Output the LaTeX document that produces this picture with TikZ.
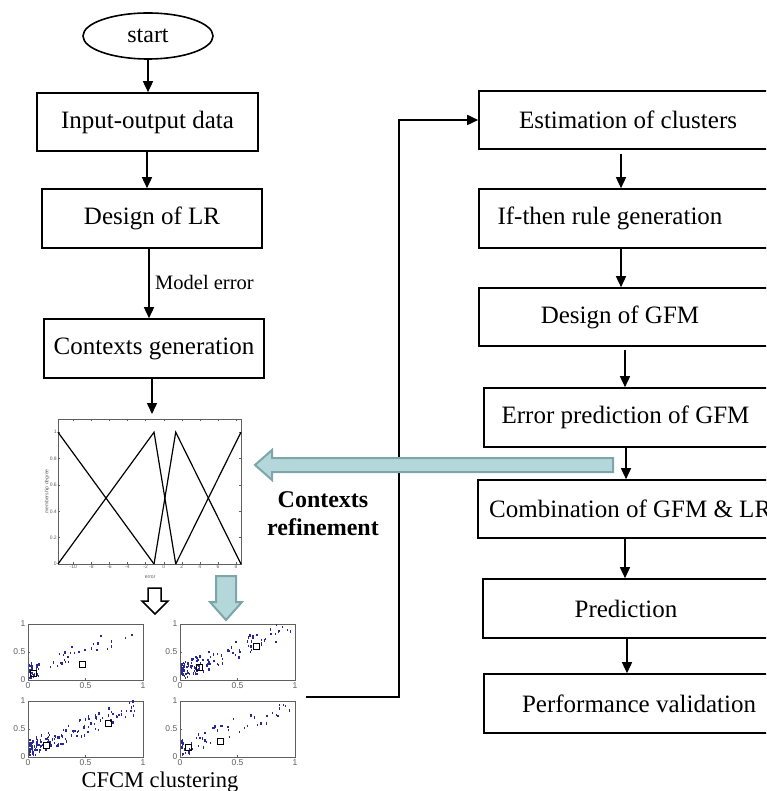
\documentclass[tikz,border=0pt]{standalone}
\usepackage{fontspec}
\setmainfont{Liberation Serif}
\newfontfamily\plotfont{Liberation Sans}
\usetikzlibrary{arrows.meta,shapes.geometric}
\definecolor{tealfill}{RGB}{180,216,218}
\definecolor{tealedge}{RGB}{125,165,170}
\definecolor{dotblue}{RGB}{40,40,150}
\definecolor{axgray}{RGB}{95,95,95}
\begin{document}
\begin{tikzpicture}[x=1pt,y=-1pt,
  box/.style={draw, line width=1.6pt, rectangle, inner sep=0pt,
    font=\fontsize{25}{30}\selectfont},
  lbl/.style={inner sep=0pt, font=\fontsize{25}{30}\selectfont},
  arr/.style={line width=1.5pt, -{Triangle[length=11pt,width=10pt]}},
  fb/.style={line width=1.7pt, -{Triangle[length=11pt,width=10pt]}},
  tick/.style={inner sep=1pt, text=axgray, font=\plotfont\fontsize{5}{6}\selectfont},
  stick/.style={inner sep=1.5pt, text=axgray, font=\plotfont\fontsize{8.5}{9}\selectfont},
  frame/.style={draw=axgray, line width=0.7pt},
  curve/.style={line width=1.2pt, black},
  blockarrow/.style={fill=tealfill, draw=tealedge, line width=2pt, line join=miter},
  hollowarrow/.style={fill=white, draw=black, line width=1.5pt, line join=miter},
  centre/.style={draw=black, line width=0.8pt}]
\useasboundingbox (0,0) rectangle (766,791);
\clip (0,0) rectangle (766,791);

% ---------- left column ----------
\node[draw, ellipse, line width=1.6pt, minimum width=130pt, minimum height=46pt,
      inner sep=0pt, font=\fontsize{24}{28}\selectfont] (start) at (148,36) {start};
\node[box, minimum width=221pt, minimum height=58pt] (io)  at (147.5,122)  {Input-output data};
\node[box, minimum width=220pt, minimum height=59pt] (lr)  at (152,218.5)  {Design of LR};
\node[box, minimum width=220pt, minimum height=59pt] (ctx) at (154,348.5)  {Contexts generation};

\coordinate (c0) at (149,0);
\coordinate (c00) at (147,0);
\draw[arr] (start.south) -- (start.south |- io.north);
\draw[arr] (c00 |- io.south) -- (c00 |- lr.north);
\draw[arr] (c0 |- lr.south) -- (c0 |- ctx.north);
\node[anchor=west, inner sep=0pt, font=\fontsize{20.5}{24}\selectfont] (merr) at (155,282) {Model error};

\coordinate (mtop) at (152,414);
\draw[arr] (mtop |- ctx.south) -- (mtop);

% ---------- membership functions of the contexts ----------
\begin{scope}[shift={(163.7,564)}, x=9.037pt, y=131.8pt]
  \draw[frame, line width=0.6pt] (-11.7,0) rectangle (8.55,1.1);
  \foreach \t in {-10,-8,...,8} {
    \draw[axgray, line width=0.4pt] (\t,0) -- ++(0,2pt);
    \draw[axgray, line width=0.4pt] (\t,1.1) -- ++(0,-2pt);
    \node[tick, below] (xt\t) at (\t,0) {\t};
  }
  \foreach \t in {0,0.2,0.4,0.6,0.8,1} {
    \draw[axgray, line width=0.4pt] (-11.7,\t) -- ++(2pt,0);
    \draw[axgray, line width=0.4pt] (8.55,\t) -- ++(-2pt,0);
    \node[tick, left] (yt\t) at (-11.7,\t) {\t};
  }
  \node[tick, rotate=90] (mlab) at (-12.9,0.55) {membership degree};
  \node[tick] (elab) at (-1.5,-0.1) {error};
  \draw[curve] (-11.7,1) -- (-1.07,0);
  \draw[curve] (-11.7,0) -- (-1.07,1) -- (1.33,0);
  \draw[curve] (-1.07,0) -- (1.33,1) -- (8.55,0);
  \draw[curve] (1.33,0) -- (8.55,1);
\end{scope}

% ---------- CFCM clustering panels ----------
\foreach \ox/\oy/\seed/\n in {28/680/11/55, 180/680/23/130, 28/757/37/140, 180/757/51/65} {
  \draw[frame] (\ox,\oy-56) rectangle (\ox+115,\oy);
  \foreach \k/\v in {0/0, 0.5/0.5, 1/1} {
    \draw[axgray, line width=0.4pt] (\ox+115*\k,\oy) -- ++(0,-2);
    \draw[axgray, line width=0.4pt] (\ox,\oy-56*\k) -- ++(2,0);
    \node[stick, anchor=north] at (\ox+115*\k,\oy+1) {\v};
    \node[stick, anchor=east] at (\ox-1,\oy-56*\k) {\v};
  }
  \begin{scope}[shift={(\ox,\oy)}, x=115pt, y=56pt]
    \pgfmathsetseed{\seed}
    \foreach \i in {1,...,\n} {
      \pgfmathsetmacro\px{0.96*rnd^2.3+0.01}
      \pgfmathsetmacro\py{min(0.97,max(0.01,0.82*\px+0.12+0.32*(rnd-0.5)))}
      \fill[dotblue] (\px,\py) rectangle ++(1.3pt,2.4pt);
    }
  \end{scope}
}
% cluster centres
\begin{scope}[shift={(28,680)}, x=115pt, y=56pt]
  \draw[centre] (0.05,0.12) ++(-3pt,-3pt) rectangle ++(6pt,6pt);
  \draw[centre] (0.47,0.27) ++(-3pt,-3pt) rectangle ++(6pt,6pt);
\end{scope}
\begin{scope}[shift={(180,680)}, x=115pt, y=56pt]
  \draw[centre] (0.17,0.22) ++(-3pt,-3pt) rectangle ++(6pt,6pt);
  \draw[centre] (0.66,0.60) ++(-3pt,-3pt) rectangle ++(6pt,6pt);
\end{scope}
\begin{scope}[shift={(28,757)}, x=115pt, y=56pt]
  \draw[centre] (0.16,0.20) ++(-3pt,-3pt) rectangle ++(6pt,6pt);
  \draw[centre] (0.70,0.60) ++(-3pt,-3pt) rectangle ++(6pt,6pt);
\end{scope}
\begin{scope}[shift={(180,757)}, x=115pt, y=56pt]
  \draw[centre] (0.07,0.17) ++(-3pt,-3pt) rectangle ++(6pt,6pt);
  \draw[centre] (0.35,0.27) ++(-3pt,-3pt) rectangle ++(6pt,6pt);
\end{scope}

\node[inner sep=0pt, anchor=base, font=\fontsize{22.5}{26}\selectfont] (cfcm) at (160,787) {CFCM clustering};

% block arrows between the plots
\draw[hollowarrow] (148,588) -- (161,588) -- (161,601) -- (168,601) -- (155,614)
  -- (142,601) -- (148,601) -- cycle;
\draw[blockarrow] (216,576) -- (236,576) -- (236,602) -- (242,602) -- (226,620)
  -- (210,602) -- (216,602) -- cycle;

% ---------- right column ----------
\node[box, minimum width=311pt, minimum height=58pt] (est) at (634.5,120)   {};
\node[box, minimum width=311pt, minimum height=59pt] (ift) at (634.5,218.5) {};
\node[box, minimum width=311pt, minimum height=58pt] (gfm) at (634.5,317)   {};
\node[box, minimum width=306pt, minimum height=59pt] (err) at (637,417.5)   {};
\node[box, minimum width=312pt, minimum height=58pt] (com) at (634,509)     {};
\node[box, minimum width=307pt, minimum height=59pt] (pre) at (636.5,608.5) {};
\node[box, minimum width=306pt, minimum height=59pt] (val) at (637,703.5)   {};

\node[lbl] (est-t) at (628,120)   {Estimation of clusters};
\node[lbl] (ift-t) at (610,218.5) {If-then rule generation};
\node[lbl] (gfm-t) at (620,317)   {Design of GFM};
\node[lbl] (err-t) at (625.5,417.5) {Error prediction of GFM};
\node[lbl, anchor=west] (com-t) at (489,509) {Combination of GFM \& LR};
\node[lbl] (pre-t) at (626,608.5) {Prediction};
\node[lbl] (val-t) at (639,703.5) {Performance validation};

\coordinate (c1) at (621,0);
\coordinate (c2) at (625,0);
\coordinate (c3) at (626,0);
\coordinate (c4) at (627,0);
\draw[arr] (c1 |- est.south) ++(0,4) -- (c1 |- ift.north);
\draw[arr] (c1 |- ift.south) -- (c1 |- gfm.north);
\draw[arr] (c2 |- gfm.south) ++(0,3) -- (c2 |- err.north);
\draw[arr] (c3 |- err.south) -- (c3 |- com.north);
\draw[arr] (c2 |- com.south) -- (c2 |- pre.north);
\draw[arr] (c4 |- pre.south) -- (c4 |- val.north);

% feedback from the clustering to the cluster estimation
\coordinate (fbstart) at (306,697);
\coordinate (fbcorner) at (399,697);
\draw[fb] (fbstart) -- (fbcorner) |- (est.west);

% contexts refinement
\draw[blockarrow] (613,458) -- (272,458) -- (272,450) -- (255,465) -- (272,480)
  -- (272,472) -- (613,472) -- cycle;
\node[align=center, inner sep=0pt, font=\fontsize{24}{28}\selectfont\bfseries] (refine)
  at (323,514) {Contexts\\refinement};
\end{tikzpicture}
\end{document}
